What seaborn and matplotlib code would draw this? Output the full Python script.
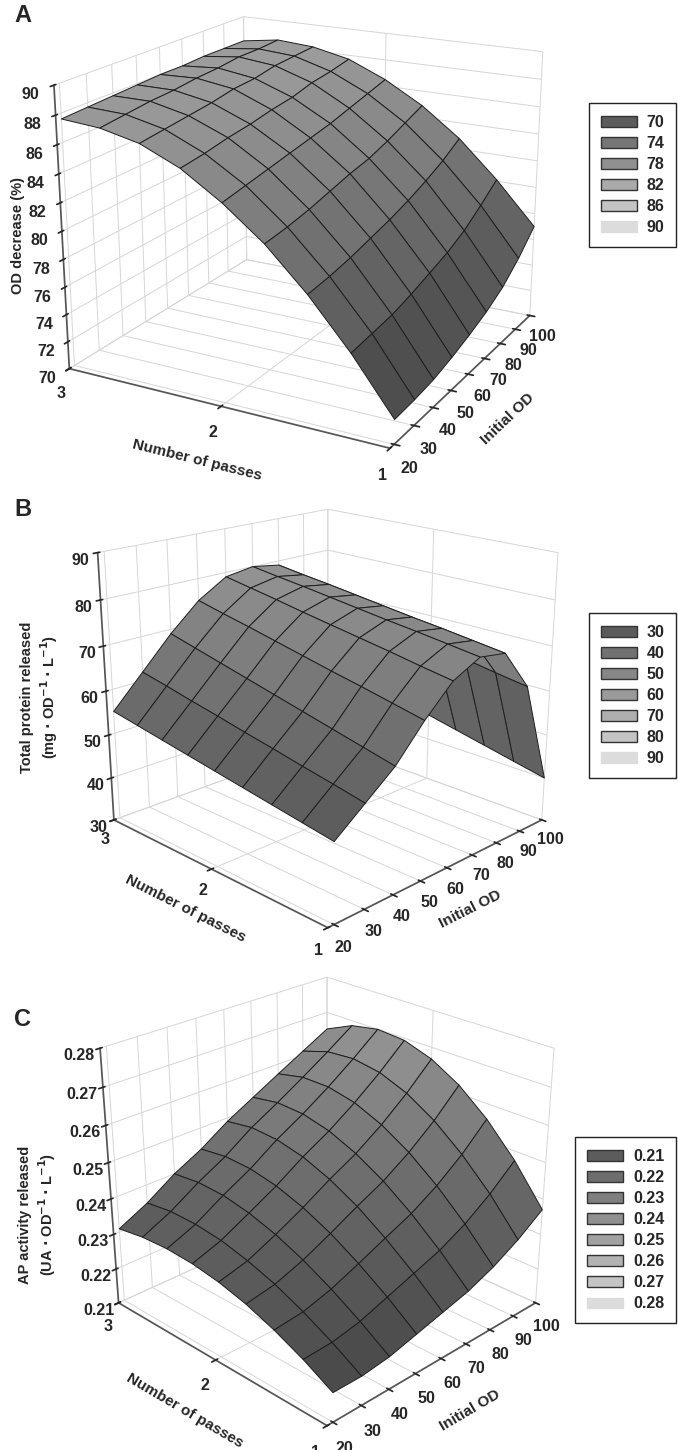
import numpy as np
import matplotlib
matplotlib.use("Agg")
import matplotlib.pyplot as plt
from matplotlib.patches import Patch
import seaborn as sns

# grid of the response surfaces (rows: number of passes, cols: initial OD)
passes = [1.0, 1.25, 1.5, 1.75, 2.0, 2.25, 2.5, 2.75, 3.0]
initial_od = [20, 30, 40, 50, 60, 70, 80, 90, 100]

od_decrease = [
    [71.7, 71.8, 72.0, 72.4, 72.9, 73.5, 74.3, 75.5, 77.0],
    [75.5, 75.7, 75.9, 76.3, 76.8, 77.3, 78.0, 79.0, 80.1],
    [78.8, 79.0, 79.3, 79.7, 80.1, 80.6, 81.2, 81.9, 82.8],
    [81.6, 81.8, 82.1, 82.5, 82.9, 83.2, 83.7, 84.3, 84.9],
    [83.8, 84.1, 84.4, 84.7, 85.0, 85.3, 85.7, 86.1, 86.5],
    [85.6, 85.8, 86.1, 86.3, 86.6, 86.8, 87.2, 87.4, 87.7],
    [86.8, 87.0, 87.2, 87.4, 87.7, 87.8, 88.1, 88.2, 88.3],
    [87.4, 87.6, 87.8, 87.9, 88.1, 88.2, 88.4, 88.4, 88.5],
    [87.6, 87.7, 87.8, 87.9, 88.0, 88.0, 88.1, 88.1, 88.1],
]

protein = [
    [47.0, 52.0, 57.0, 64.0, 70.0, 73.0, 72.0, 63.0, 40.0],
    [48.0, 53.3, 58.5, 65.4, 71.1, 73.9, 72.9, 64.1, 41.5],
    [49.0, 54.5, 60.0, 66.8, 72.3, 74.8, 73.8, 65.3, 43.0],
    [50.0, 55.8, 61.5, 68.1, 73.4, 75.6, 74.6, 66.4, 44.5],
    [51.0, 57.0, 63.0, 69.5, 74.5, 76.5, 75.5, 67.5, 46.0],
    [52.0, 58.3, 64.5, 70.9, 75.6, 77.4, 76.4, 68.6, 47.5],
    [53.0, 59.5, 66.0, 72.3, 76.8, 78.3, 77.3, 69.8, 49.0],
    [54.0, 60.8, 67.5, 73.6, 77.9, 79.1, 78.1, 70.9, 50.5],
    [55.0, 62.0, 69.0, 75.0, 79.0, 80.0, 79.0, 72.0, 52.0],
]

ap_activity = [
    [0.2180, 0.2180, 0.2190, 0.2210, 0.2230, 0.2250, 0.2280, 0.2320, 0.2370],
    [0.2224, 0.2228, 0.2244, 0.2271, 0.2298, 0.2325, 0.2363, 0.2413, 0.2474],
    [0.2260, 0.2269, 0.2292, 0.2324, 0.2358, 0.2391, 0.2435, 0.2490, 0.2558],
    [0.2289, 0.2304, 0.2333, 0.2370, 0.2410, 0.2447, 0.2495, 0.2553, 0.2623],
    [0.2309, 0.2330, 0.2366, 0.2406, 0.2451, 0.2491, 0.2541, 0.2600, 0.2668],
    [0.2321, 0.2349, 0.2390, 0.2432, 0.2481, 0.2523, 0.2573, 0.2630, 0.2694],
    [0.2325, 0.2358, 0.2405, 0.2447, 0.2498, 0.2541, 0.2589, 0.2642, 0.2700],
    [0.2321, 0.2359, 0.2408, 0.2450, 0.2502, 0.2544, 0.2589, 0.2636, 0.2686],
    [0.2309, 0.2349, 0.2400, 0.2440, 0.2490, 0.2531, 0.2572, 0.2612, 0.2652],
]

levels_a = [70, 74, 78, 82, 86, 90]
levels_b = [30, 40, 50, 60, 70, 80, 90]
levels_c = [0.21, 0.22, 0.23, 0.24, 0.25, 0.26, 0.27, 0.28]

zticks_a = [70, 72, 74, 76, 78, 80, 82, 84, 86, 88, 90]
zticks_b = [30, 40, 50, 60, 70, 80, 90]
zticks_c = [0.21, 0.22, 0.23, 0.24, 0.25, 0.26, 0.27, 0.28]

sns.set_theme(style="white")
plt.rcParams["font.family"] = ["Liberation Sans", "DejaVu Sans"]
plt.rcParams["font.weight"] = "bold"
plt.rcParams["axes.labelweight"] = "bold"
plt.rcParams["mathtext.default"] = "bf"

surf_cmap = sns.blend_palette(["#3c3c3c", "#6e6e6e", "#a6a6a6"], as_cmap=True)

W, H = 678, 1450


def legend_colors(n):
    return sns.blend_palette(["#5c5c5c", "#c4c4c4"], n - 1) + ["#dcdcdc"]


def square_rect(cx, cy, size):
    # axes rectangle (figure fraction) of a square centred at pixel (cx, cy)
    return [(cx - size / 2) / W, 1 - (cy + size / 2) / H, size / W, size / H]


def draw_panel(fig, rect, z, levels, zticks, zfmt, elev, azim, aspect, zoom, focal):
    ax = fig.add_axes(rect, projection="3d")
    ax.set_facecolor("none")
    X, Y = np.meshgrid(initial_od, passes)
    Z = np.array(z)
    ax.plot_surface(X, Y, Z, cmap=surf_cmap, vmin=levels[0], vmax=levels[-1],
                    edgecolor="#1e1e1e", linewidth=0.7, antialiased=True)
    ax.set_xlim(18, 100)
    ax.set_ylim(1, 3)
    ax.set_zlim(levels[0], levels[-1])
    ax.set_xticks(initial_od)
    ax.set_yticks([1, 2, 3])
    ax.set_zticks(zticks)
    ax.set_zticklabels([zfmt.format(v) for v in zticks])
    ax.set_proj_type("persp", focal_length=focal)
    ax.view_init(elev=elev, azim=azim)
    ax.set_box_aspect(aspect, zoom=zoom)
    for axis in (ax.xaxis, ax.yaxis, ax.zaxis):
        axis.set_pane_color((1, 1, 1, 0))
        axis.pane.set_edgecolor("#555555")
        axis.pane.set_linewidth(1.0)
        axis._axinfo["grid"].update(color="#d6d6d6", linewidth=0.7)
        axis.line.set_color("#555555")
        axis.set_tick_params(labelsize=11.5, pad=0)
    ax.set_xlabel("Initial OD", fontsize=11, labelpad=2)
    ax.set_ylabel("Number of passes", fontsize=11, labelpad=2)
    return ax


def add_legend(fig, levels, fmt, y):
    cols = legend_colors(len(levels))
    handles = []
    for i, c in enumerate(cols):
        ec = c if i == len(cols) - 1 else "#333333"
        handles.append(Patch(facecolor=c, edgecolor=ec, linewidth=1.0))
    fig.legend(handles, [fmt.format(v) for v in levels], loc="upper right",
               bbox_to_anchor=(1 - 1.5 / W, 1 - y / H), frameon=True, fancybox=False,
               edgecolor="#222222", framealpha=1, fontsize=11.5,
               handlelength=2.25, handleheight=0.65, labelspacing=0.38,
               borderpad=0.75, handletextpad=0.63, borderaxespad=0)


fig = plt.figure(figsize=(W / 100, H / 100), dpi=100)

draw_panel(fig, square_rect(302, 215, 486), od_decrease, levels_a, zticks_a, "{:d}",
           19, -151.5, (0.93, 0.95, 0.78), 1.14, 0.6)
draw_panel(fig, square_rect(320, 699, 580), protein, levels_b, zticks_b, "{:d}",
           19, -135, (1, 1, 0.9), 0.88, 0.4)
draw_panel(fig, square_rect(321, 1187, 449.5), ap_activity, levels_c, zticks_c, "{:.2f}",
           26, -135, (1, 1, 0.92), 1.12, 0.6)

fig.text(18 / W, 1 - 235 / H, "OD decrease (%)", rotation=90, fontsize=10.5,
         fontweight="bold", ha="center", va="center")
fig.text(40 / W, 1 - 697 / H,
         "Total protein released\n(mg $\\cdot$ OD$^{-1}$ $\\cdot$ L$^{-1}$)",
         rotation=90, fontsize=10.5, fontweight="bold", ha="center", va="center",
         multialignment="center", linespacing=1.25)
fig.text(38 / W, 1 - 1215 / H,
         "AP activity released\n(UA $\\cdot$ OD$^{-1}$ $\\cdot$ L$^{-1}$)",
         rotation=90, fontsize=10.5, fontweight="bold", ha="center", va="center",
         multialignment="center", linespacing=1.25)

add_legend(fig, levels_a, "{:d}", 103)
add_legend(fig, levels_b, "{:d}", 613)
add_legend(fig, levels_c, "{:.2f}", 1137)

for letter, yy in (("A", 16), ("B", 510), ("C", 1020)):
    fig.text(14 / W, 1 - yy / H, letter, fontsize=17, fontweight="bold", va="center")

fig.savefig("out.png", dpi=100)
